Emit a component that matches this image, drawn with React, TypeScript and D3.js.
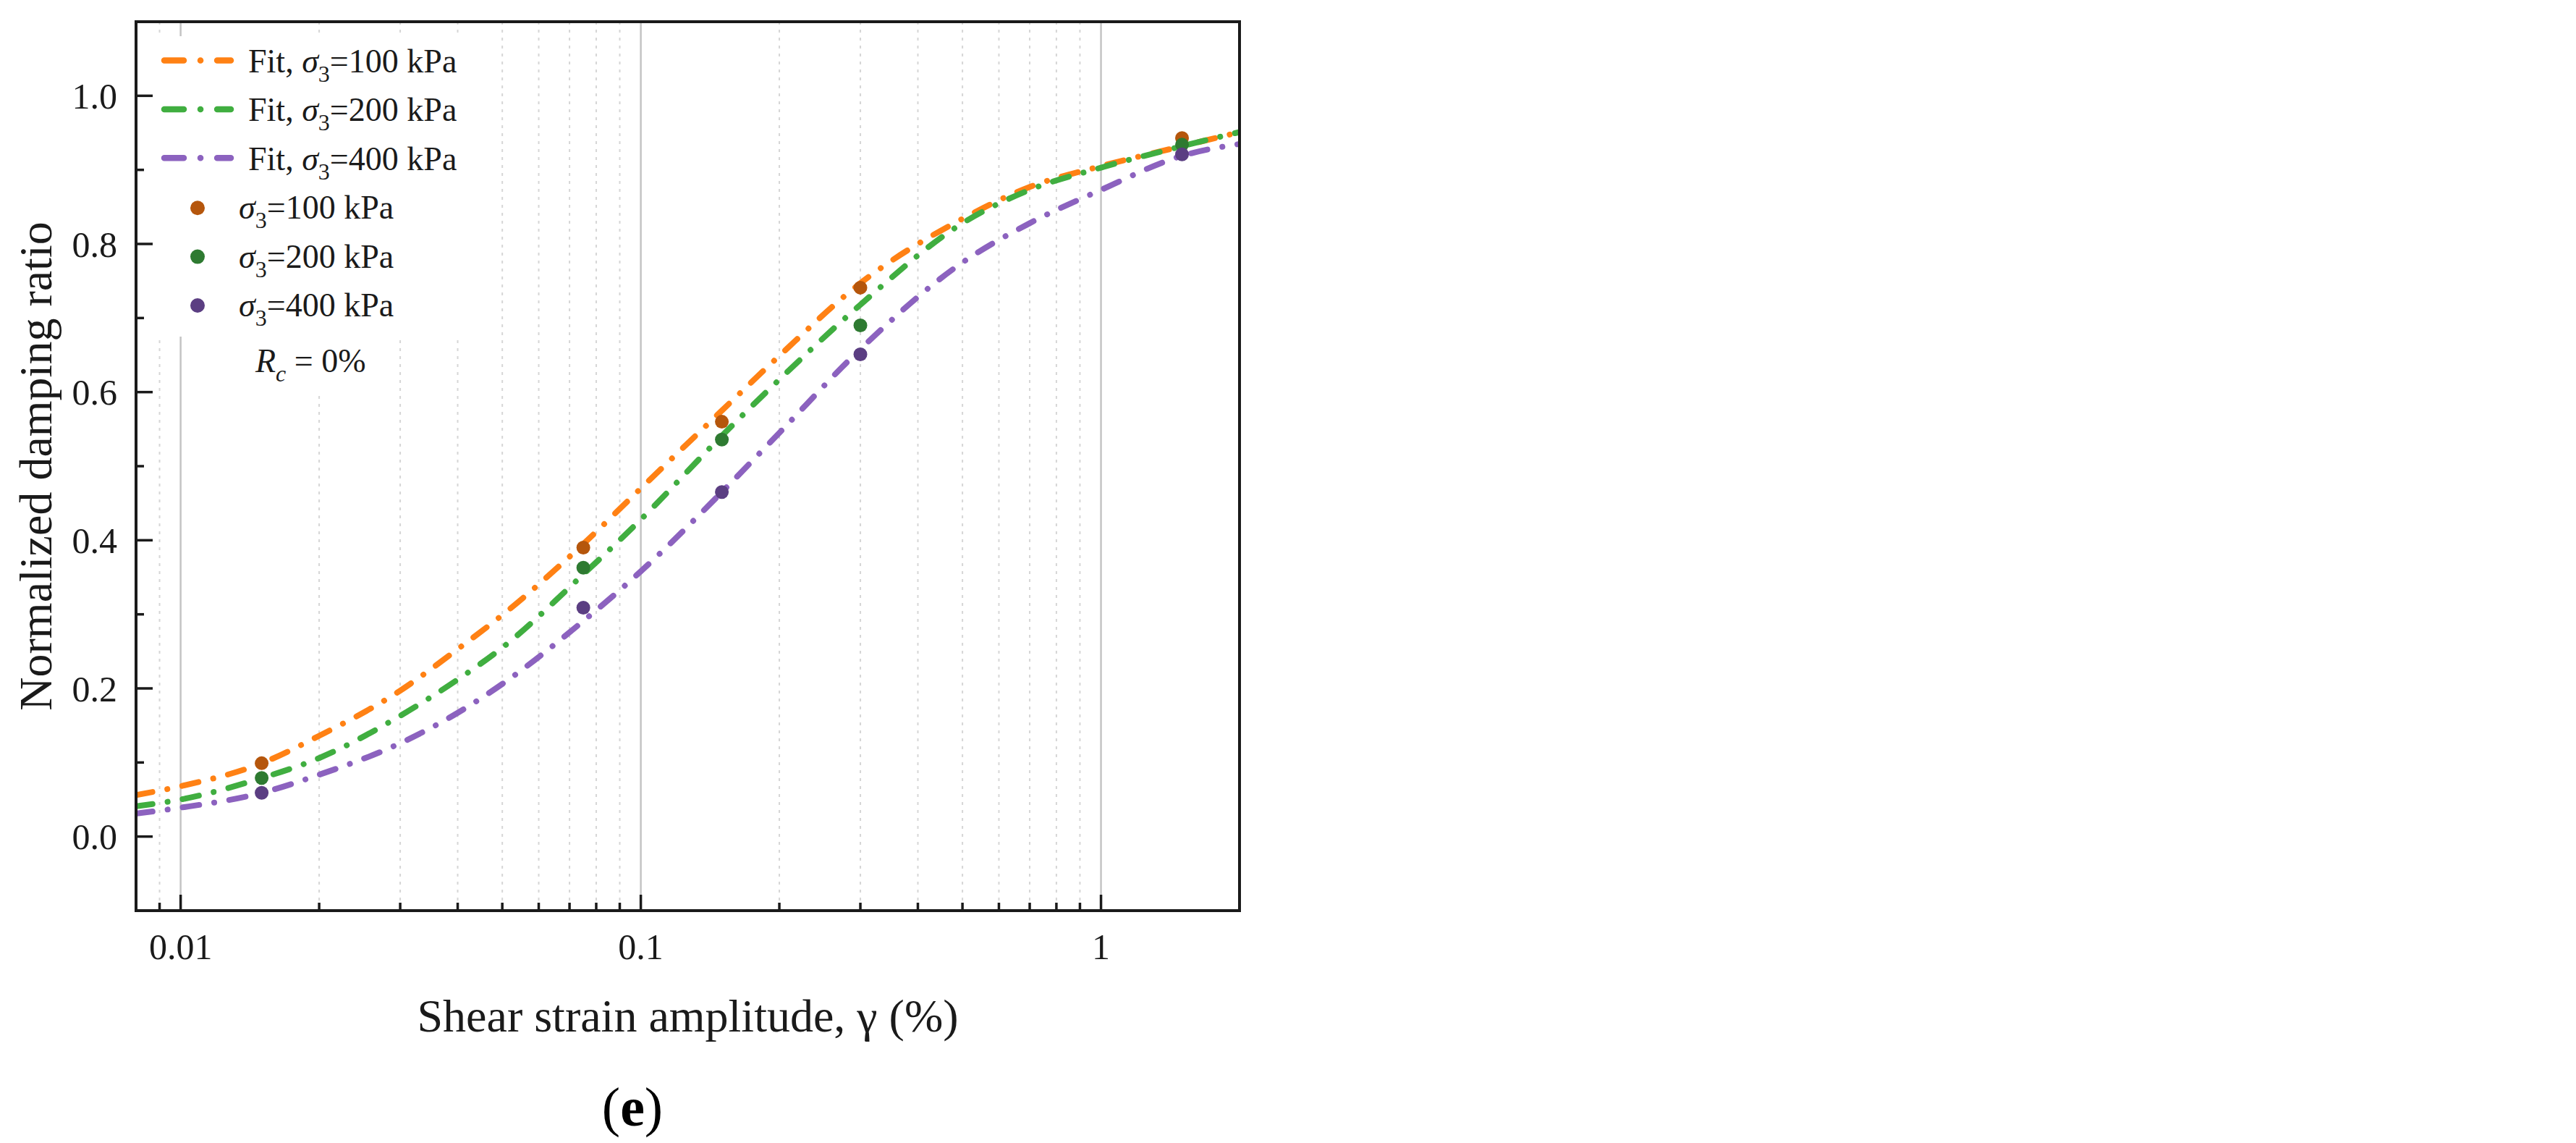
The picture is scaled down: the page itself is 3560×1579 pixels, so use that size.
import * as d3 from "d3";

// strain amplitudes (%) where the fitted curves were read
const fitStrain = [0.008, 0.01, 0.015, 0.02, 0.03, 0.04, 0.05, 0.075, 0.1, 0.15, 0.2, 0.3, 0.5, 0.7, 1, 1.5, 2];
const fit100 = [0.056, 0.068, 0.099, 0.136, 0.197, 0.253, 0.299, 0.395, 0.47, 0.575, 0.649, 0.747, 0.834, 0.877, 0.905, 0.932, 0.951];
const fit200 = [0.041, 0.05, 0.079, 0.106, 0.163, 0.212, 0.255, 0.354, 0.428, 0.541, 0.617, 0.718, 0.828, 0.873, 0.903, 0.932, 0.951];
const fit400 = [0.031, 0.039, 0.059, 0.0835, 0.126, 0.167, 0.206, 0.291, 0.358, 0.465, 0.545, 0.658, 0.775, 0.828, 0.873, 0.919, 0.935];

// measured points
const testStrain = [0.015, 0.075, 0.15, 0.3, 1.5];
const test100 = [0.099, 0.39, 0.56, 0.741, 0.943];
const test200 = [0.079, 0.363, 0.536, 0.69, 0.934];
const test400 = [0.059, 0.309, 0.465, 0.651, 0.921];

const pressures = ["100", "200", "400"];
const fitColors = ["#ff8114", "#40ae40", "#8c62bf"];
const dotColors = ["#b5560c", "#2e7a31", "#5b3e82"];

const xMajor = [0.01, 0.1, 1];
const xMinor = [0.009, 0.02, 0.03, 0.04, 0.05, 0.06, 0.07, 0.08, 0.09, 0.2, 0.3, 0.4, 0.5, 0.6, 0.7, 0.8, 0.9];
const yMajor = [0, 0.2, 0.4, 0.6, 0.8, 1.0];
const yMinor = [0.1, 0.3, 0.5, 0.7, 0.9];

const W = 3560;
const H = 1579;
const M = { left: 188, right: 1713, top: 30, bottom: 1258 };
const FONT = "'Liberation Serif', 'Times New Roman', serif";

export default function App() {
  const x = d3.scaleLog().domain([0.008, 2]).range([M.left, M.right]);
  const y = d3.scaleLinear().domain([-0.1, 1.1]).range([M.bottom, M.top]);

  const line = d3
    .line<[number, number]>()
    .x((d) => x(d[0]))
    .y((d) => y(d[1]))
    .curve(d3.curveMonotoneX);

  const fits = [fit100, fit200, fit400].map((s) => s.map((v, i) => [fitStrain[i], v] as [number, number]));
  const tests = [test100, test200, test400].map((s) => s.map((v, i) => [testStrain[i], v] as [number, number]));

  const legendY = (i: number) => 100 + i * 67.4;

  return (
    <svg width={W} height={H} style={{ position: "absolute", left: 0, top: 0, background: "#fff" }} fontFamily={FONT}>
      <defs>
        <clipPath id="plot">
          <rect x={M.left} y={M.top} width={M.right - M.left} height={M.bottom - M.top} />
        </clipPath>
      </defs>

      {/* grid */}
      {xMinor.map((t) => (
        <line key={"gm" + t} x1={x(t)} x2={x(t)} y1={M.top} y2={M.bottom} stroke="#d6d6d6" strokeWidth={2} strokeDasharray="4 7" />
      ))}
      {xMajor.map((t) => (
        <line key={"gM" + t} x1={x(t)} x2={x(t)} y1={M.top} y2={M.bottom} stroke="#c4c4c4" strokeWidth={2.5} />
      ))}

      {/* legend background */}
      <rect x={M.left + 3} y={50} width={450} height={415} fill="#fff" />
      <rect x={340} y={465} width={180} height={75} fill="#fff" />

      {/* fitted curves */}
      <g clipPath="url(#plot)">
        {fits.map((f, i) => (
          <path
            key={"f" + i}
            d={line(f) ?? ""}
            fill="none"
            stroke={fitColors[i]}
            strokeWidth={8}
            strokeLinecap="round"
            strokeDasharray="23 21 0.1 21"
          />
        ))}
      </g>

      {/* test points */}
      {tests.map((s, i) =>
        s.map((d, j) => <circle key={"p" + i + "-" + j} cx={x(d[0])} cy={y(d[1])} r={9.5} fill={dotColors[i]} />)
      )}

      {/* frame */}
      <rect x={M.left} y={M.top} width={M.right - M.left} height={M.bottom - M.top} fill="none" stroke="#1a1a1a" strokeWidth={4} />

      {/* x ticks */}
      {xMajor.map((t) => (
        <line key={"xt" + t} x1={x(t)} x2={x(t)} y1={M.bottom} y2={M.bottom - 22} stroke="#1a1a1a" strokeWidth={3.5} />
      ))}
      {xMinor.map((t) => (
        <line key={"xm" + t} x1={x(t)} x2={x(t)} y1={M.bottom} y2={M.bottom - 11} stroke="#1a1a1a" strokeWidth={3.5} />
      ))}
      {xMajor.map((t) => (
        <text key={"xl" + t} x={x(t)} y={1325} textAnchor="middle" fontSize={50} fill="#1a1a1a">
          {String(t)}
        </text>
      ))}

      {/* y ticks */}
      {yMajor.map((t) => (
        <line key={"yt" + t} x1={M.left} x2={M.left + 23} y1={y(t)} y2={y(t)} stroke="#1a1a1a" strokeWidth={3.5} />
      ))}
      {yMinor.map((t) => (
        <line key={"ym" + t} x1={M.left} x2={M.left + 11} y1={y(t)} y2={y(t)} stroke="#1a1a1a" strokeWidth={3.5} />
      ))}
      {yMajor.map((t) => (
        <text key={"yl" + t} x={162} y={y(t)} dy="0.35em" textAnchor="end" fontSize={50} fill="#1a1a1a">
          {d3.format(".1f")(t)}
        </text>
      ))}

      {/* axis titles */}
      <text x={(M.left + M.right) / 2} y={1425} textAnchor="middle" fontSize={64} fill="#1a1a1a">
        Shear strain amplitude, γ (%)
      </text>
      <text
        transform={`translate(71,${(M.top + M.bottom) / 2}) rotate(-90)`}
        textAnchor="middle"
        fontSize={64}
        fill="#1a1a1a"
      >
        Normalized damping ratio
      </text>

      {/* legend */}
      {pressures.map((p, i) => (
        <g key={"lf" + p}>
          <line
            x1={227}
            x2={319}
            y1={legendY(i) - 16.5}
            y2={legendY(i) - 16.5}
            stroke={fitColors[i]}
            strokeWidth={8.5}
            strokeLinecap="round"
            strokeDasharray="27 23 0.1 23"
          />
          <text x={343} y={legendY(i)} fontSize={46} fill="#1a1a1a">
            Fit, <tspan fontStyle="italic">σ</tspan>
            <tspan fontSize={32} dy={13}>3</tspan>
            <tspan dy={-13}>={p} kPa</tspan>
          </text>
        </g>
      ))}
      {pressures.map((p, i) => (
        <g key={"lp" + p}>
          <circle cx={273} cy={legendY(i + 3) - 15} r={10} fill={dotColors[i]} />
          <text x={330} y={legendY(i + 3)} fontSize={46} fill="#1a1a1a">
            <tspan fontStyle="italic">σ</tspan>
            <tspan fontSize={32} dy={13}>3</tspan>
            <tspan dy={-13}>={p} kPa</tspan>
          </text>
        </g>
      ))}
      <text x={353} y={514} fontSize={46} fill="#1a1a1a">
        <tspan fontStyle="italic">R</tspan>
        <tspan fontStyle="italic" fontSize={32} dy={13}>c</tspan>
        <tspan dy={-13}> = 0%</tspan>
      </text>

      {/* panel label */}
      <text x={874} y={1555} textAnchor="middle" fontSize={76} fill="#000">
        (<tspan fontWeight="bold">e</tspan>)
      </text>
    </svg>
  );
}
